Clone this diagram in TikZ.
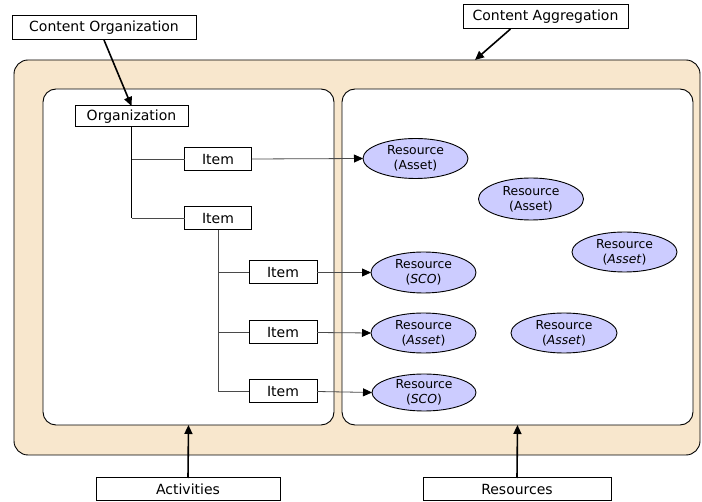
\documentclass[tikz,border=0pt]{standalone}
\usepackage{fontspec}
\setmainfont{DejaVu Sans}
\usetikzlibrary{shapes.geometric,arrows.meta}
\definecolor{aggfill}{HTML}{F8E7CD}
\definecolor{resfill}{HTML}{CCCCFF}
\definecolor{branch}{HTML}{4A4A4A}
\tikzset{
  every node/.style={inner sep=0pt, outer sep=0pt},
  panel/.style={draw=black, line width=0.9pt, rounded corners=14pt},
  labelbox/.style={draw=black, line width=1pt, fill=white, font=\fontsize{14}{15}\selectfont, minimum height=24pt},
  itembox/.style={draw=black, line width=1pt, fill=white, font=\fontsize{14}{15}\selectfont, minimum width=67pt, minimum height=23pt},
  resource/.style={ellipse, draw=black, line width=0.9pt, fill=resfill, minimum width=105pt, minimum height=40pt, align=center, font=\fontsize{12.4}{15}\selectfont},
  callout/.style={-{Triangle[length=9pt,width=8pt]}, line width=1.6pt, black},
  link/.style={-{Triangle[length=9pt,width=8pt,color=black,fill=black]}, line width=0.8pt, branch},
  trunk/.style={line width=1.5pt, black},
  twig/.style={line width=0.8pt, branch}
}
\begin{document}
\begin{tikzpicture}[x=1pt, y=-1pt]
\useasboundingbox (0,0) rectangle (702,502);
\fill[white] (0,0) rectangle (702,502);

% content aggregation frame and its two panels
\node[panel, fill=aggfill, minimum width=686pt, minimum height=395pt] (agg) at (357,257.5) {};
\node[panel, fill=white, minimum width=291pt, minimum height=336pt, rounded corners=13pt] (act) at (188.5,257) {};
\node[panel, fill=white, minimum width=351pt, minimum height=336pt, rounded corners=13pt] (res) at (517.5,257) {};

% callout labels
\node[labelbox, minimum width=184pt] (co) at (104,28) {Content Organization};
\node[labelbox, minimum width=165pt] (ca) at (545.5,17) {Content Aggregation};
\node[labelbox, minimum width=184pt, minimum height=23pt] (activities) at (188,489.5) {Activities};
\node[labelbox, minimum width=188pt, minimum height=23pt] (resources) at (517,489.5) {Resources};
\coordinate (aggtop) at (475,60);

% organization tree
\node[itembox, minimum width=113pt, minimum height=21pt] (org) at (131.5,116.5) {Organization};
\node[itembox] (i1) at (218,159) {Item};
\node[itembox] (i2) at (218,218.5) {Item};
\node[itembox, minimum width=68pt] (i3) at (283,272.5) {Item};
\node[itembox, minimum width=68pt] (i4) at (283,332.5) {Item};
\node[itembox, minimum width=68pt] (i5) at (283,391.5) {Item};

% resources
\node[resource] (r1) at (415.5,158.5) {Resource\\(Asset)};
\node[resource, minimum height=42pt] (r2) at (531,199) {Resource\\(Asset)};
\node[resource] (r3) at (624.5,252) {Resource\\(\textit{Asset})};
\node[resource, minimum height=41pt] (r4) at (423.5,272.5) {Resource\\(\textit{SCO})};
\node[resource] (r5) at (423.5,333) {Resource\\(\textit{Asset})};
\node[resource, minimum width=106pt] (r6) at (564,333) {Resource\\(\textit{Asset})};
\node[resource, minimum width=104pt, minimum height=37pt] (r7) at (424,392.5) {Resource\\(\textit{SCO})};

% tree connectors
\draw[twig] (org.south |- i1) -- (i1.west);
\draw[twig] (org.south |- i2) -- (i2.west);
\draw[trunk] (org.south) -- (org.south |- i2);
\draw[twig] (i2.south) -- (i2.south |- i5) -- (i5.west);
\draw[twig] (i2.south |- i3) -- (i3.west);
\draw[twig] (i2.south |- i4) -- (i4.west);

% item to resource links
\draw[link] (i1.east) -- (r1.west);
\draw[link] (i3.east) -- (r4.west);
\draw[link] (i4.east) -- (r5.west);
\draw[link] (i5.east) -- (r7.west);

% callout arrows
\draw[callout] (co.south) -- (org.north);
\draw[callout] ([xshift=-35pt]ca.south) -- (aggtop);
\draw[callout] (activities.north) -- (act.south);
\draw[callout] (resources.north) -- (res.south);
\end{tikzpicture}
\end{document}
